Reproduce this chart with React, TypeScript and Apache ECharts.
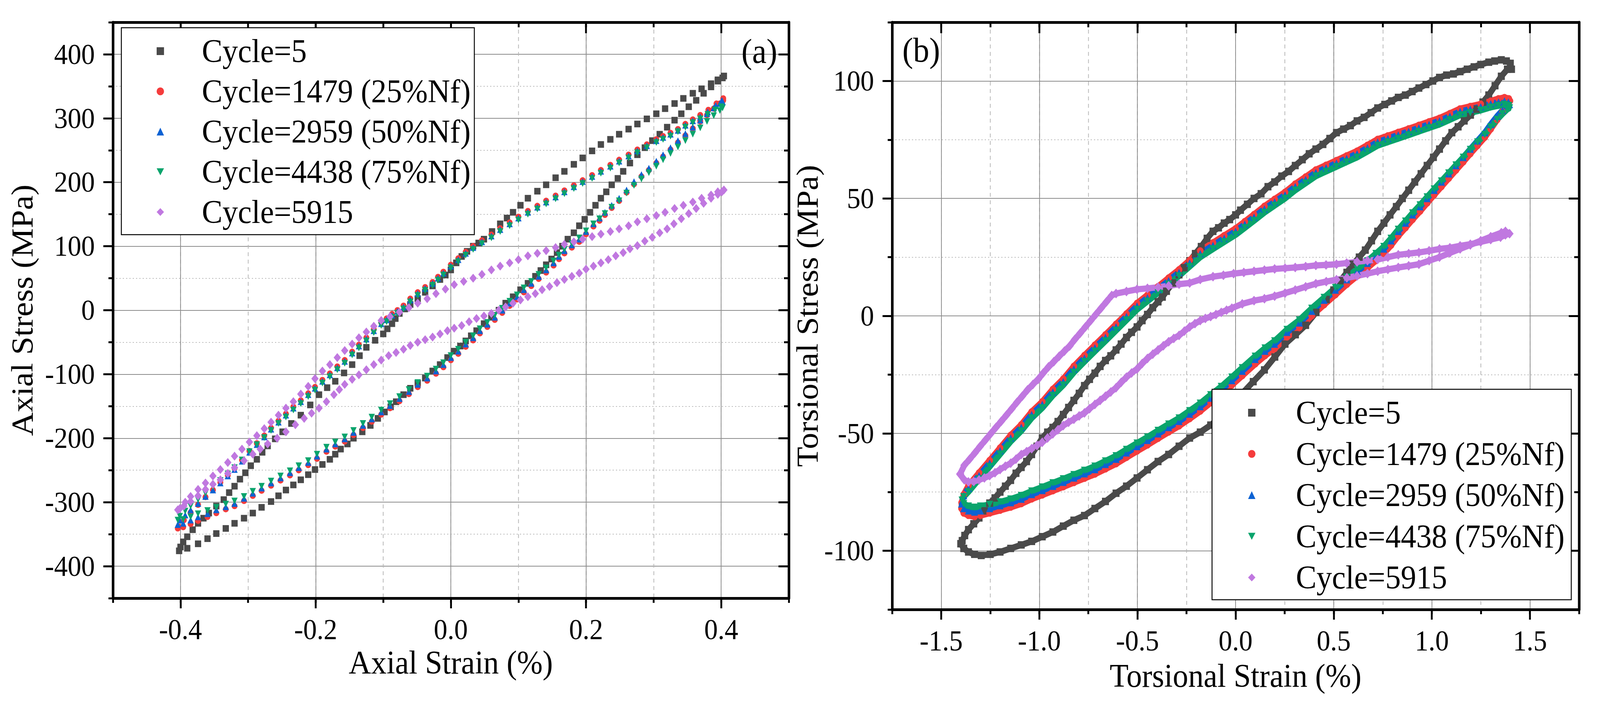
import { useEffect, useRef } from 'react';
import * as echarts from 'echarts';

type Pt = [number, number];

// legend entries, shared by both panels
const SERIES_NAMES = [
  'Cycle=5',
  'Cycle=1479 (25%Nf)',
  'Cycle=2959 (50%Nf)',
  'Cycle=4438 (75%Nf)',
  'Cycle=5915',
];

// tick labels
const AXIAL_STRAIN_TICKS = [-0.4, -0.2, 0, 0.2, 0.4];
const AXIAL_STRESS_TICKS = [-400, -300, -200, -100, 0, 100, 200, 300, 400];
const TORSION_STRAIN_TICKS = [-1.5, -1, -0.5, 0, 0.5, 1, 1.5];
const TORSION_STRESS_TICKS = [-100, -50, 0, 50, 100];

// (a) axial loops: [strain %, stress MPa]
const AXIAL_C5: Pt[] = [
  [-0.402, -376], [-0.39, -372], [-0.374, -365], [-0.36, -357], [-0.347, -349], [-0.333, -341], [-0.32, -333],
  [-0.306, -325], [-0.293, -317], [-0.28, -308], [-0.266, -299], [-0.255, -290], [-0.244, -281], [-0.233, -273],
  [-0.222, -265], [-0.211, -257], [-0.201, -249], [-0.19, -241], [-0.179, -233], [-0.171, -225], [-0.163, -217],
  [-0.153, -209], [-0.144, -200], [-0.131, -190], [-0.119, -180], [-0.108, -169], [-0.098, -159], [-0.089, -151],
  [-0.081, -143], [-0.07, -132], [-0.06, -122], [-0.049, -114], [-0.038, -106], [-0.027, -95], [-0.016, -85],
  [-0.005, -74], [0.005, -64], [0.014, -56], [0.022, -48], [0.03, -40], [0.038, -32], [0.049, -21], [0.06, -11],
  [0.071, 0], [0.081, 11], [0.092, 21], [0.103, 32], [0.114, 42], [0.125, 53], [0.133, 62], [0.141, 71],
  [0.149, 80], [0.157, 90], [0.165, 100], [0.173, 111], [0.182, 121], [0.19, 132], [0.198, 142], [0.206, 153],
  [0.214, 164], [0.222, 175], [0.23, 185], [0.238, 196], [0.247, 206], [0.255, 217], [0.265, 230], [0.276, 243],
  [0.287, 254], [0.298, 265], [0.309, 275], [0.32, 286], [0.331, 297], [0.341, 307], [0.352, 318], [0.363, 328],
  [0.374, 339], [0.385, 349], [0.395, 358], [0.402, 363],
  [0.404, 366], [0.395, 360], [0.385, 354], [0.371, 346], [0.358, 339], [0.344, 331], [0.331, 323], [0.317, 315],
  [0.304, 307], [0.29, 299], [0.276, 291], [0.263, 283], [0.249, 275], [0.236, 267], [0.222, 259], [0.209, 249],
  [0.195, 238], [0.182, 228], [0.168, 217], [0.155, 207], [0.141, 196], [0.128, 186], [0.114, 175], [0.103, 164],
  [0.092, 153], [0.083, 144], [0.073, 135], [0.061, 123], [0.049, 111], [0.041, 105], [0.033, 100], [0.024, 92],
  [0.016, 84], [0.008, 74], [0, 63], [-0.008, 55], [-0.016, 48], [-0.027, 38], [-0.038, 28], [-0.049, 18],
  [-0.06, 9], [-0.068, 2], [-0.076, -5], [-0.082, -13], [-0.087, -21], [-0.094, -29], [-0.1, -37], [-0.112, -47],
  [-0.125, -58], [-0.135, -71], [-0.146, -85], [-0.158, -98], [-0.171, -111], [-0.183, -121], [-0.195, -132],
  [-0.208, -148], [-0.222, -164], [-0.236, -177], [-0.249, -190], [-0.26, -201], [-0.271, -212], [-0.279, -222],
  [-0.287, -233], [-0.296, -243], [-0.304, -254], [-0.312, -264], [-0.32, -275], [-0.328, -285], [-0.336, -296],
  [-0.347, -306], [-0.358, -317], [-0.366, -325], [-0.374, -333], [-0.382, -343], [-0.39, -354], [-0.396, -362],
  [-0.4, -370],
];

const AXIAL_C1479: Pt[] = [
  [-0.404, -341], [-0.396, -339], [-0.385, -334], [-0.374, -329], [-0.36, -323], [-0.347, -317], [-0.333, -311],
  [-0.32, -306], [-0.306, -298], [-0.293, -290], [-0.28, -282], [-0.266, -274], [-0.252, -266], [-0.238, -258],
  [-0.225, -250], [-0.211, -242], [-0.198, -232], [-0.184, -221], [-0.171, -213], [-0.157, -205], [-0.144, -195],
  [-0.13, -184], [-0.117, -174], [-0.103, -163], [-0.09, -153], [-0.076, -142], [-0.062, -131], [-0.049, -120],
  [-0.035, -110], [-0.022, -99], [-0.011, -89], [0, -78], [0.011, -68], [0.022, -57], [0.033, -47], [0.043, -36],
  [0.054, -26], [0.065, -15], [0.076, -4], [0.087, 7], [0.098, 17], [0.108, 28], [0.119, 38], [0.13, 49],
  [0.141, 59], [0.152, 70], [0.16, 80], [0.168, 89], [0.179, 98], [0.19, 107], [0.2, 119], [0.211, 131],
  [0.22, 140], [0.228, 149], [0.238, 160], [0.249, 171], [0.26, 184], [0.271, 197], [0.282, 209], [0.293, 219],
  [0.304, 230], [0.314, 240], [0.325, 251], [0.336, 262], [0.347, 273], [0.358, 284], [0.369, 295], [0.379, 305],
  [0.389, 315], [0.398, 323], [0.403, 328],
  [0.403, 331], [0.393, 323], [0.381, 313], [0.369, 305], [0.358, 298], [0.347, 291], [0.336, 283], [0.325, 277],
  [0.314, 272], [0.304, 267], [0.29, 259], [0.276, 251], [0.263, 243], [0.249, 235], [0.236, 227], [0.222, 219],
  [0.209, 211], [0.195, 203], [0.182, 195], [0.168, 187], [0.155, 179], [0.141, 171], [0.128, 163], [0.114, 155],
  [0.1, 146], [0.087, 137], [0.073, 128], [0.06, 118], [0.046, 109], [0.033, 100], [0.022, 91], [0.011, 81],
  [0, 71], [-0.011, 60], [-0.019, 52], [-0.027, 44], [-0.038, 36], [-0.049, 28], [-0.06, 18], [-0.07, 7],
  [-0.079, 0], [-0.087, -6], [-0.095, -13], [-0.103, -19], [-0.114, -30], [-0.125, -43], [-0.136, -54],
  [-0.146, -65], [-0.157, -78], [-0.168, -88], [-0.179, -99], [-0.19, -109], [-0.201, -120], [-0.211, -130],
  [-0.222, -141], [-0.233, -151], [-0.244, -162], [-0.255, -173], [-0.266, -184], [-0.276, -196], [-0.287, -208],
  [-0.298, -220], [-0.309, -234], [-0.32, -247], [-0.33, -258], [-0.341, -269], [-0.352, -281], [-0.363, -292],
  [-0.374, -304], [-0.385, -316], [-0.395, -328], [-0.403, -338],
];

const AXIAL_C2959: Pt[] = [
  [-0.404, -335], [-0.396, -333], [-0.385, -328], [-0.374, -323], [-0.36, -318], [-0.347, -312], [-0.333, -307],
  [-0.32, -302], [-0.306, -294], [-0.293, -286], [-0.28, -278], [-0.266, -270], [-0.252, -262], [-0.238, -254],
  [-0.225, -246], [-0.211, -238], [-0.198, -228], [-0.184, -217], [-0.171, -209], [-0.157, -201], [-0.144, -191],
  [-0.13, -180], [-0.117, -170], [-0.103, -159], [-0.09, -149], [-0.076, -138], [-0.062, -127], [-0.049, -116],
  [-0.035, -106], [-0.022, -95], [-0.011, -85], [0, -74], [0.011, -64], [0.022, -53], [0.033, -43], [0.043, -32],
  [0.054, -22], [0.065, -11], [0.076, 0], [0.087, 11], [0.098, 21], [0.108, 32], [0.119, 42], [0.13, 53],
  [0.141, 63], [0.152, 74], [0.16, 84], [0.168, 93], [0.179, 102], [0.19, 111], [0.2, 123], [0.211, 135],
  [0.22, 144], [0.228, 153], [0.238, 164], [0.249, 175], [0.26, 188], [0.271, 201], [0.282, 212], [0.293, 222],
  [0.304, 233], [0.314, 243], [0.325, 254], [0.336, 265], [0.347, 276], [0.358, 286], [0.369, 297], [0.379, 307],
  [0.389, 316], [0.398, 323], [0.402, 326],
  [0.401, 328], [0.392, 320], [0.38, 310], [0.369, 302], [0.358, 296], [0.347, 289], [0.336, 281], [0.325, 275],
  [0.314, 270], [0.304, 265], [0.29, 257], [0.276, 249], [0.263, 241], [0.249, 233], [0.236, 225], [0.222, 217],
  [0.209, 209], [0.195, 201], [0.182, 193], [0.168, 185], [0.155, 177], [0.141, 169], [0.128, 161], [0.114, 153],
  [0.1, 144], [0.087, 135], [0.073, 126], [0.06, 116], [0.046, 107], [0.033, 98], [0.022, 89], [0.011, 79],
  [0, 69], [-0.011, 58], [-0.019, 50], [-0.027, 42], [-0.038, 34], [-0.049, 26], [-0.06, 16], [-0.07, 5],
  [-0.079, -2], [-0.087, -8], [-0.095, -15], [-0.103, -21], [-0.114, -32], [-0.125, -45], [-0.136, -56],
  [-0.146, -67], [-0.157, -80], [-0.168, -90], [-0.179, -101], [-0.19, -111], [-0.201, -122], [-0.211, -132],
  [-0.222, -143], [-0.233, -153], [-0.244, -164], [-0.255, -175], [-0.266, -186], [-0.276, -198], [-0.287, -210],
  [-0.298, -222], [-0.309, -236], [-0.32, -249], [-0.33, -259], [-0.341, -270], [-0.352, -281], [-0.363, -291],
  [-0.374, -302], [-0.385, -312], [-0.393, -320], [-0.401, -328],
];

const AXIAL_C4438: Pt[] = [
  [-0.404, -328], [-0.396, -327], [-0.385, -323], [-0.374, -318], [-0.36, -313], [-0.347, -308], [-0.333, -303],
  [-0.32, -298], [-0.306, -291], [-0.293, -283], [-0.28, -275], [-0.266, -267], [-0.252, -259], [-0.238, -251],
  [-0.225, -243], [-0.211, -235], [-0.198, -225], [-0.184, -214], [-0.171, -206], [-0.157, -198], [-0.144, -188],
  [-0.13, -177], [-0.117, -167], [-0.103, -156], [-0.09, -146], [-0.076, -135], [-0.062, -124], [-0.049, -113],
  [-0.035, -103], [-0.022, -92], [-0.011, -82], [0, -71], [0.011, -61], [0.022, -50], [0.033, -40], [0.043, -29],
  [0.054, -19], [0.065, -8], [0.076, 3], [0.087, 14], [0.098, 24], [0.108, 35], [0.119, 45], [0.13, 56],
  [0.141, 66], [0.152, 77], [0.16, 86], [0.168, 95], [0.179, 104], [0.19, 113], [0.2, 124], [0.211, 135],
  [0.22, 143], [0.228, 151], [0.238, 161], [0.249, 171], [0.26, 183], [0.271, 195], [0.282, 205], [0.293, 215],
  [0.304, 225], [0.314, 235], [0.325, 245], [0.336, 255], [0.347, 265], [0.358, 275], [0.369, 285], [0.379, 295],
  [0.389, 304], [0.398, 312], [0.402, 316],
  [0.4, 318], [0.391, 313], [0.38, 306], [0.369, 299], [0.358, 293], [0.347, 286], [0.336, 279], [0.325, 272],
  [0.314, 267], [0.304, 262], [0.29, 254], [0.276, 246], [0.263, 238], [0.249, 230], [0.236, 222], [0.222, 214],
  [0.209, 206], [0.195, 198], [0.182, 190], [0.168, 182], [0.155, 174], [0.141, 166], [0.128, 158], [0.114, 150],
  [0.1, 141], [0.087, 132], [0.073, 123], [0.06, 113], [0.046, 104], [0.033, 95], [0.022, 86], [0.011, 76],
  [0, 66], [-0.011, 55], [-0.019, 47], [-0.027, 39], [-0.038, 31], [-0.049, 23], [-0.06, 13], [-0.07, 2],
  [-0.079, -5], [-0.087, -11], [-0.095, -18], [-0.103, -24], [-0.114, -35], [-0.125, -48], [-0.136, -59],
  [-0.146, -70], [-0.157, -83], [-0.168, -93], [-0.179, -104], [-0.19, -114], [-0.201, -125], [-0.211, -135],
  [-0.222, -146], [-0.233, -156], [-0.244, -167], [-0.255, -177], [-0.266, -188], [-0.276, -199], [-0.287, -210],
  [-0.298, -221], [-0.309, -234], [-0.32, -246], [-0.33, -256], [-0.341, -266], [-0.352, -276], [-0.363, -286],
  [-0.374, -296], [-0.385, -306], [-0.393, -314], [-0.401, -322],
];

const AXIAL_C5915: Pt[] = [
  [-0.404, -312], [-0.395, -306], [-0.385, -299], [-0.374, -290], [-0.363, -280], [-0.352, -272], [-0.341, -265],
  [-0.33, -255], [-0.32, -246], [-0.306, -235], [-0.293, -225], [-0.282, -217], [-0.271, -209], [-0.257, -200],
  [-0.244, -190], [-0.23, -179], [-0.217, -169], [-0.206, -161], [-0.195, -153], [-0.184, -143], [-0.173, -132],
  [-0.165, -124], [-0.157, -116], [-0.146, -108], [-0.136, -101], [-0.125, -93], [-0.114, -85], [-0.103, -78],
  [-0.092, -71], [-0.081, -66], [-0.07, -61], [-0.06, -55], [-0.049, -50], [-0.038, -46], [-0.027, -42],
  [-0.016, -37], [-0.005, -32], [0.005, -28], [0.016, -24], [0.027, -18], [0.038, -13], [0.049, -9], [0.06, -5],
  [0.071, 0], [0.081, 5], [0.092, 11], [0.103, 16], [0.114, 21], [0.125, 26], [0.135, 32], [0.146, 37],
  [0.157, 43], [0.168, 48], [0.179, 53], [0.19, 58], [0.2, 64], [0.211, 69], [0.222, 74], [0.233, 79],
  [0.244, 85], [0.255, 90], [0.265, 96], [0.276, 101], [0.287, 108], [0.298, 114], [0.309, 121], [0.32, 127],
  [0.33, 135], [0.341, 143], [0.352, 151], [0.363, 159], [0.374, 167], [0.385, 175], [0.395, 181], [0.401, 185],
  [0.404, 188], [0.395, 185], [0.385, 180], [0.371, 175], [0.358, 169], [0.344, 164], [0.331, 159], [0.317, 153],
  [0.304, 148], [0.29, 143], [0.276, 138], [0.263, 132], [0.249, 127], [0.236, 123], [0.222, 119], [0.209, 115],
  [0.195, 111], [0.182, 107], [0.168, 103], [0.155, 98], [0.141, 93], [0.128, 89], [0.114, 85], [0.1, 79],
  [0.087, 74], [0.073, 69], [0.06, 63], [0.046, 56], [0.033, 50], [0.019, 45], [0.005, 40], [-0.008, 33],
  [-0.022, 26], [-0.035, 18], [-0.049, 11], [-0.062, 4], [-0.076, -3], [-0.09, -10], [-0.103, -16], [-0.114, -25],
  [-0.125, -34], [-0.136, -43], [-0.146, -53], [-0.157, -63], [-0.168, -74], [-0.179, -85], [-0.19, -95],
  [-0.201, -107], [-0.211, -119], [-0.222, -131], [-0.233, -143], [-0.244, -153], [-0.255, -164], [-0.266, -175],
  [-0.276, -185], [-0.287, -196], [-0.298, -206], [-0.309, -217], [-0.32, -228], [-0.33, -238], [-0.341, -249],
  [-0.352, -259], [-0.363, -270], [-0.374, -280], [-0.385, -291], [-0.393, -300], [-0.401, -310],
];

// (b) torsional loops: [strain %, stress MPa], traced round each loop
const TORSION_C5: Pt[] = [
  [-1.4, -97], [-1.385, -99], [-1.361, -100.5], [-1.33, -101.5], [-1.296, -102], [-1.25, -101.5], [-1.2, -100.5],
  [-1.146, -99], [-1.092, -97.5], [-1.039, -96], [-0.985, -94], [-0.931, -92], [-0.878, -89.5], [-0.824, -87],
  [-0.77, -85], [-0.717, -82], [-0.663, -79], [-0.609, -75.5], [-0.556, -72.5], [-0.502, -69], [-0.449, -65.5],
  [-0.395, -62], [-0.341, -59], [-0.288, -55.5], [-0.234, -52], [-0.18, -49.5], [-0.127, -46.5], [-0.073, -43],
  [-0.019, -39.5], [0.034, -33], [0.09, -28], [0.147, -23], [0.2, -17.5], [0.252, -12], [0.305, -8], [0.357, -4],
  [0.41, 1.5], [0.462, 7], [0.5, 11], [0.535, 15], [0.567, 18.5], [0.598, 22], [0.63, 25], [0.661, 28],
  [0.693, 32], [0.724, 36], [0.756, 39.5], [0.787, 43], [0.819, 46.5], [0.85, 50], [0.882, 53.5], [0.913, 57],
  [0.945, 60.5], [0.976, 64], [1.008, 67.5], [1.039, 71], [1.07, 74.5], [1.102, 78], [1.134, 80.5], [1.165, 83],
  [1.197, 85.5], [1.228, 88], [1.26, 91], [1.29, 94], [1.322, 98], [1.354, 102], [1.385, 105], [1.406, 105],
  [1.4, 107.5], [1.38, 108.5], [1.354, 109], [1.32, 108.5], [1.29, 108], [1.249, 107], [1.215, 106], [1.18, 105],
  [1.144, 104], [1.11, 103], [1.075, 102.5], [1.039, 101.5], [1.005, 100], [0.97, 98.5], [0.934, 97], [0.9, 95.5],
  [0.865, 94], [0.829, 93], [0.795, 91.5], [0.76, 90], [0.724, 88.5], [0.69, 86.5], [0.655, 84.5], [0.619, 83],
  [0.585, 81], [0.55, 79.5], [0.514, 78], [0.48, 75.5], [0.445, 73], [0.409, 71], [0.375, 69], [0.34, 66.5],
  [0.304, 64], [0.27, 61.5], [0.235, 59.5], [0.199, 57], [0.165, 55], [0.13, 52], [0.094, 50], [0.06, 47.5],
  [0.025, 45], [0, 43], [-0.03, 41], [-0.058, 39.5], [-0.087, 37.5], [-0.115, 36], [-0.145, 33], [-0.175, 29.5],
  [-0.205, 26.5], [-0.234, 23.5], [-0.262, 20.5], [-0.288, 17.5], [-0.32, 14], [-0.352, 10.5], [-0.373, 8],
  [-0.395, 6], [-0.422, 3.5], [-0.449, 0.6], [-0.476, -2], [-0.502, -4.7], [-0.53, -7], [-0.556, -9.2],
  [-0.583, -12], [-0.609, -14.5], [-0.636, -17], [-0.663, -19], [-0.69, -21.5], [-0.717, -24.4], [-0.744, -27],
  [-0.77, -29.7], [-0.797, -33], [-0.824, -36], [-0.851, -39], [-0.878, -42], [-0.905, -45], [-0.931, -47.5],
  [-0.958, -49.5], [-0.985, -52], [-1.012, -55.5], [-1.039, -59], [-1.065, -62], [-1.092, -64.5], [-1.119, -67],
  [-1.146, -70], [-1.173, -72.5], [-1.2, -75], [-1.226, -77.5], [-1.253, -79.7], [-1.28, -83], [-1.307, -86],
  [-1.334, -88.5], [-1.361, -91], [-1.38, -93.5], [-1.393, -95.7], [-1.4, -97],
];

const TORSION_C1479: Pt[] = [
  [-1.396, -82], [-1.385, -84], [-1.361, -85], [-1.33, -85.5], [-1.3, -85], [-1.253, -84], [-1.2, -82.8],
  [-1.146, -81.5], [-1.092, -80], [-1.039, -78], [-0.985, -76.3], [-0.931, -74.5], [-0.878, -72.8], [-0.824, -71],
  [-0.77, -69.2], [-0.717, -67.4], [-0.663, -65.2], [-0.609, -63], [-0.556, -60.3], [-0.502, -57.6], [-0.449, -55],
  [-0.395, -52.2], [-0.341, -49.5], [-0.288, -46.9], [-0.234, -43.8], [-0.18, -40.6], [-0.127, -37], [-0.073, -33.5],
  [-0.019, -29.5], [0.034, -25.5], [0.1, -20.5], [0.15, -17], [0.199, -14], [0.262, -9], [0.325, -5], [0.388, 0],
  [0.451, 4.7], [0.509, 9], [0.567, 13.4], [0.62, 17], [0.672, 20.4], [0.715, 23.5], [0.755, 26.5], [0.792, 30],
  [0.829, 34], [0.866, 37.5], [0.902, 41], [0.94, 44.5], [0.976, 48], [1.012, 51.5], [1.049, 55], [1.086, 58.5],
  [1.123, 62], [1.16, 65.5], [1.196, 69], [1.233, 72.5], [1.27, 76], [1.3, 79.5], [1.333, 83.5], [1.36, 87],
  [1.385, 90], [1.398, 91.5],
  [1.392, 92.5], [1.37, 93], [1.34, 92.5], [1.3, 91.5], [1.249, 90.2], [1.196, 89.2], [1.144, 88.2], [1.092, 86.2],
  [1.039, 84.2], [0.986, 82.7], [0.934, 81.2], [0.882, 79.7], [0.829, 78.2], [0.776, 76.7], [0.724, 75.2],
  [0.672, 72.7], [0.619, 70.2], [0.566, 68.2], [0.514, 66.2], [0.461, 64.2], [0.409, 62.2], [0.357, 59.2],
  [0.304, 56.2], [0.252, 52.7], [0.199, 49.7], [0.147, 46.7], [0.094, 43.2], [0.047, 40.2], [0, 37.2],
  [-0.058, 34.2], [-0.115, 31.2], [-0.18, 27.7], [-0.234, 23.7], [-0.288, 19.7], [-0.341, 16.2], [-0.395, 12.5],
  [-0.449, 8.9], [-0.502, 5.4], [-0.556, 0.9], [-0.609, -3.5], [-0.663, -8], [-0.717, -12.4], [-0.77, -16.8],
  [-0.824, -21.4], [-0.878, -26.8], [-0.931, -31.2], [-0.985, -36.5], [-1.039, -40.8], [-1.092, -46.3],
  [-1.146, -50.8], [-1.2, -56.2], [-1.253, -61.5], [-1.307, -66.8], [-1.361, -72.2], [-1.385, -76], [-1.396, -79.5],
  [-1.396, -82],
];

const TORSION_C2959: Pt[] = [
  [-1.396, -80], [-1.385, -82], [-1.361, -83], [-1.33, -83.5], [-1.3, -83], [-1.253, -82], [-1.2, -80.8],
  [-1.146, -79.5], [-1.092, -78], [-1.039, -76], [-0.985, -74.3], [-0.931, -72.5], [-0.878, -70.8], [-0.824, -69],
  [-0.77, -67.2], [-0.717, -65.4], [-0.663, -63.2], [-0.609, -61], [-0.556, -58.3], [-0.502, -55.6], [-0.449, -53],
  [-0.395, -50.2], [-0.341, -47.5], [-0.288, -44.9], [-0.234, -41.8], [-0.18, -38.6], [-0.127, -35], [-0.073, -31.5],
  [-0.019, -27.5], [0.034, -23.5], [0.1, -18.5], [0.15, -15], [0.199, -12], [0.262, -7], [0.325, -3], [0.388, 2],
  [0.451, 6.7], [0.509, 11], [0.567, 15.4], [0.62, 19], [0.672, 22.4], [0.715, 25.5], [0.755, 28.5], [0.792, 32],
  [0.829, 36], [0.866, 39.5], [0.902, 43], [0.94, 46.5], [0.976, 50], [1.012, 53.5], [1.049, 57], [1.086, 60.5],
  [1.123, 64], [1.16, 67.5], [1.196, 71], [1.233, 74.5], [1.27, 78], [1.3, 81.5], [1.333, 85], [1.36, 87.5],
  [1.385, 89.5], [1.396, 90],
  [1.39, 91], [1.37, 91.5], [1.34, 91], [1.3, 90.3], [1.249, 89], [1.196, 88], [1.144, 87], [1.092, 85],
  [1.039, 83], [0.986, 81.5], [0.934, 80], [0.882, 78.5], [0.829, 77], [0.776, 75.5], [0.724, 74], [0.672, 71.5],
  [0.619, 69], [0.566, 67], [0.514, 65], [0.461, 63], [0.409, 61], [0.357, 58], [0.304, 55], [0.252, 51.5],
  [0.199, 48.5], [0.147, 45.5], [0.094, 42], [0.047, 39], [0, 36], [-0.058, 33], [-0.115, 30], [-0.18, 26.5],
  [-0.234, 22.5], [-0.288, 18.5], [-0.341, 15], [-0.395, 11.3], [-0.449, 7.7], [-0.502, 4.2], [-0.556, -0.3],
  [-0.609, -4.7], [-0.663, -9.2], [-0.717, -13.6], [-0.77, -18], [-0.824, -22.6], [-0.878, -28], [-0.931, -32.4],
  [-0.985, -37.7], [-1.039, -42], [-1.092, -47.5], [-1.146, -52], [-1.2, -57.4], [-1.253, -62.7], [-1.307, -68],
  [-1.361, -73.4], [-1.385, -76.5], [-1.393, -78.8], [-1.396, -80],
];

const TORSION_C4438: Pt[] = [
  [-1.393, -78.5], [-1.385, -80], [-1.361, -81], [-1.33, -81.5], [-1.3, -81], [-1.253, -80.3], [-1.2, -79.2],
  [-1.146, -78], [-1.092, -76.5], [-1.039, -74.6], [-0.985, -72.9], [-0.931, -71.1], [-0.878, -69.4], [-0.824, -67.6],
  [-0.77, -65.8], [-0.717, -64], [-0.663, -61.8], [-0.609, -59.6], [-0.556, -56.9], [-0.502, -54.2], [-0.449, -51.6],
  [-0.395, -48.8], [-0.341, -46.1], [-0.288, -43.5], [-0.234, -40.4], [-0.18, -37.2], [-0.127, -33.6], [-0.073, -30.1],
  [-0.019, -26.1], [0.034, -22.1], [0.1, -17.2], [0.15, -13.7], [0.199, -10.7], [0.262, -5.8], [0.325, -1.8],
  [0.388, 3.2], [0.451, 7.8], [0.509, 12], [0.567, 16.4], [0.62, 20], [0.672, 23.4], [0.715, 26.5], [0.755, 29.5],
  [0.792, 33], [0.829, 36.8], [0.866, 40.3], [0.902, 43.8], [0.94, 47.2], [0.976, 50.6], [1.012, 54], [1.049, 57.4],
  [1.086, 60.8], [1.123, 64.2], [1.16, 67.5], [1.196, 70.8], [1.233, 74], [1.27, 77.2], [1.3, 80.4], [1.333, 83.6],
  [1.36, 86], [1.385, 88], [1.396, 88.5],
  [1.392, 89.5], [1.37, 90], [1.34, 89.5], [1.3, 88.8], [1.249, 87.5], [1.196, 86.5], [1.144, 85.5], [1.092, 83.5],
  [1.039, 81.5], [0.986, 80], [0.934, 78.5], [0.882, 77], [0.829, 75.5], [0.776, 74], [0.724, 72.5], [0.672, 70],
  [0.619, 67.5], [0.566, 65.5], [0.514, 63.5], [0.461, 61.5], [0.409, 59.5], [0.357, 56.5], [0.304, 53.5],
  [0.252, 50], [0.199, 47], [0.147, 44], [0.094, 40.5], [0.047, 37.5], [0, 34.5], [-0.058, 31.5], [-0.115, 28.5],
  [-0.18, 25], [-0.234, 21], [-0.288, 17], [-0.341, 13.5], [-0.395, 9.8], [-0.449, 6.2], [-0.502, 2.7],
  [-0.556, -1.8], [-0.609, -6.2], [-0.663, -10.7], [-0.717, -15.1], [-0.77, -19.5], [-0.824, -24.1], [-0.878, -29.5],
  [-0.931, -33.9], [-0.985, -39.2], [-1.039, -43.5], [-1.092, -49], [-1.146, -53.5], [-1.2, -58.9], [-1.253, -64.2],
  [-1.307, -69.5], [-1.361, -74.9], [-1.385, -77], [-1.393, -78.5],
];

const TORSION_C5915: Pt[] = [
  [-1.403, -67.5], [-1.382, -69.8], [-1.361, -70.7], [-1.334, -70.5], [-1.307, -69.8], [-1.28, -69], [-1.253, -68],
  [-1.226, -66.8], [-1.2, -65.4], [-1.173, -64], [-1.146, -62.7], [-1.119, -61], [-1.092, -59], [-1.065, -57.8],
  [-1.039, -56.5], [-1.012, -55.2], [-0.985, -53.8], [-0.958, -52], [-0.931, -50.2], [-0.905, -48.5], [-0.878, -46.7],
  [-0.851, -45.3], [-0.824, -44], [-0.797, -42.6], [-0.77, -41.3], [-0.744, -39.5], [-0.717, -37.7], [-0.69, -36],
  [-0.663, -34.2], [-0.636, -32.4], [-0.609, -30.6], [-0.583, -28.3], [-0.556, -26.1], [-0.53, -24.3], [-0.502, -22.6],
  [-0.476, -20.3], [-0.449, -18.1], [-0.422, -16.3], [-0.395, -14.5], [-0.368, -12.7], [-0.341, -11], [-0.315, -9.6],
  [-0.288, -8.3], [-0.261, -6.5], [-0.234, -4.7], [-0.207, -3.3], [-0.18, -2], [-0.154, -1.1], [-0.127, -0.3],
  [-0.1, 0.6], [-0.073, 1.5], [-0.046, 2.4], [-0.019, 3.3], [0.034, 5.1], [0.094, 6.5], [0.147, 7.3], [0.199, 8.4],
  [0.252, 9.7], [0.304, 11], [0.357, 12.4], [0.409, 13.7], [0.462, 14.6], [0.514, 15.4], [0.567, 16.2], [0.619, 17],
  [0.672, 18], [0.724, 19], [0.776, 19.8], [0.829, 20.6], [0.882, 21.3], [0.934, 22], [0.986, 23.5], [1.039, 25],
  [1.092, 26.8], [1.144, 28.5], [1.196, 30.2], [1.249, 32], [1.3, 33.7], [1.354, 35.4], [1.375, 36],
  [1.396, 35], [1.375, 34.5], [1.35, 33.5], [1.3, 32.5], [1.249, 31.5], [1.196, 30.5], [1.144, 29.8], [1.092, 29],
  [1.039, 28.5], [0.986, 27.7], [0.934, 27], [0.882, 26.5], [0.829, 26], [0.776, 25], [0.724, 24], [0.672, 23.5],
  [0.619, 23], [0.566, 22.5], [0.514, 22], [0.461, 21.7], [0.409, 21.5], [0.357, 21], [0.304, 20.6], [0.252, 20.3],
  [0.199, 20], [0.147, 19.5], [0.094, 19], [0.042, 18.5], [-0.01, 18], [-0.062, 17.3], [-0.115, 16.7], [-0.18, 15.5],
  [-0.234, 14], [-0.288, 13.5], [-0.341, 12.8], [-0.395, 12.2], [-0.449, 11.7], [-0.502, 11.3], [-0.556, 10.4],
  [-0.609, 9.5], [-0.631, 8.7], [-0.658, 6], [-0.685, 3.3], [-0.712, 0.6], [-0.738, -2], [-0.765, -4.7],
  [-0.792, -7.4], [-0.819, -10], [-0.845, -12.8], [-0.872, -15], [-0.899, -17.2], [-0.926, -19.5], [-0.953, -21.7],
  [-0.98, -24.3], [-1.006, -27], [-1.033, -29.2], [-1.06, -31.5], [-1.087, -34.2], [-1.114, -36.8], [-1.14, -39.5],
  [-1.167, -42.2], [-1.194, -44.9], [-1.221, -47.5], [-1.248, -50.2], [-1.275, -52.9], [-1.302, -55.6],
  [-1.328, -58.3], [-1.355, -61], [-1.382, -63.6], [-1.403, -67.2],
];

const AXIAL_LOOPS = [AXIAL_C5, AXIAL_C1479, AXIAL_C2959, AXIAL_C4438, AXIAL_C5915];
const TORSION_LOOPS = [TORSION_C5, TORSION_C1479, TORSION_C2959, TORSION_C4438, TORSION_C5915];

const COLORS = ['#4a4a4a', '#f53c3c', '#0c62d3', '#09a46c', '#c078e0'];
const SYMBOLS = ['rect', 'circle', 'triangle', 'path://M0,0L20,0L10,18Z', 'diamond'];
const AXIAL_SYMBOL_SIZES: any[] = [17, 16, 17, 17, [20, 23]];
const TORSION_SYMBOL_SIZES: any[] = [19, 18, 19, 19, [22, 25]];

// the figure is laid out on a 4351 x 1803 sheet
const SHEET_W = 4351;
const SHEET_H = 1803;

const FONT = 'Liberation Serif';
const MAJOR_GRID = '#8c8c8c';
const MINOR_GRID = '#b5b5b5';
const AXIS_LINE = { color: '#000', width: 7 };
const TICK_LINE = { color: '#000', width: 5 };
const TITLE_STYLE = { fontSize: 84, fontFamily: FONT, color: '#000' };

const isMajor = (v: number, ticks: number[]) => ticks.some((t) => Math.abs(t - v) < 1e-6);

function strainAxes(grid: number, min: number, max: number, minorStep: number, ticks: number[], splitNumber: number, name: string, nameGap: number) {
  const base = { gridIndex: grid, type: 'value', min, max, silent: true };
  return [
    // minor ticks and dashed grid lines
    {
      ...base, position: 'bottom', interval: minorStep,
      axisLine: { show: false, onZero: false },
      axisTick: { show: true, inside: false, length: 12, lineStyle: TICK_LINE },
      axisLabel: { show: false },
      splitLine: { show: true, lineStyle: { color: MINOR_GRID, width: 2, type: [10, 9] } },
    },
    // major ticks, labels and solid grid lines
    {
      ...base, position: 'bottom', splitNumber,
      axisLine: { show: true, onZero: false, lineStyle: AXIS_LINE },
      axisTick: { show: true, inside: false, length: 26, customValues: ticks, lineStyle: TICK_LINE },
      axisLabel: {
        show: true, customValues: ticks, margin: 43, fontSize: 74, fontFamily: FONT, color: '#000',
        formatter: (v: number) => (isMajor(v, ticks) ? v.toFixed(1) : ''),
      },
      splitLine: { show: true, lineStyle: { color: MAJOR_GRID, width: 2 } },
      name, nameLocation: 'middle', nameGap, nameTextStyle: TITLE_STYLE,
    },
    {
      ...base, position: 'top', interval: minorStep,
      axisLine: { show: true, onZero: false, lineStyle: AXIS_LINE },
      axisTick: { show: true, inside: true, length: 13, lineStyle: TICK_LINE },
      axisLabel: { show: false }, splitLine: { show: false },
    },
    {
      ...base, position: 'top', splitNumber,
      axisLine: { show: false, onZero: false },
      axisTick: { show: true, inside: true, length: 28, customValues: ticks, lineStyle: TICK_LINE },
      axisLabel: { show: false }, splitLine: { show: false },
    },
  ];
}

function stressAxes(grid: number, min: number, max: number, minorStep: number, ticks: number[], splitNumber: number, name: string, nameGap: number) {
  const base = { gridIndex: grid, type: 'value', min, max, silent: true };
  return [
    {
      ...base, position: 'left', interval: minorStep,
      axisLine: { show: false, onZero: false },
      axisTick: { show: true, inside: false, length: 12, lineStyle: TICK_LINE },
      axisLabel: { show: false },
      splitLine: { show: true, lineStyle: { color: MINOR_GRID, width: 2, type: [3, 6] } },
    },
    {
      ...base, position: 'left', splitNumber,
      axisLine: { show: true, onZero: false, lineStyle: AXIS_LINE },
      axisTick: { show: true, inside: false, length: 26, customValues: ticks, lineStyle: TICK_LINE },
      axisLabel: {
        show: true, customValues: ticks, margin: 49, fontSize: 74, fontFamily: FONT, color: '#000',
        formatter: (v: number) => (isMajor(v, ticks) ? String(Math.round(v)) : ''),
      },
      splitLine: { show: true, lineStyle: { color: MAJOR_GRID, width: 2 } },
      name, nameLocation: 'middle', nameGap, nameTextStyle: TITLE_STYLE,
    },
    {
      ...base, position: 'right', interval: minorStep,
      axisLine: { show: true, onZero: false, lineStyle: AXIS_LINE },
      axisTick: { show: true, inside: true, length: 13, lineStyle: TICK_LINE },
      axisLabel: { show: false }, splitLine: { show: false },
    },
    {
      ...base, position: 'right', splitNumber,
      axisLine: { show: false, onZero: false },
      axisTick: { show: true, inside: true, length: 28, customValues: ticks, lineStyle: TICK_LINE },
      axisLabel: { show: false }, splitLine: { show: false },
    },
  ];
}

function legendFor(left: number, top: number, itemGap: number, padding: number[], textShift: number) {
  return {
    left, top, orient: 'vertical', itemWidth: 20, itemHeight: 20, itemGap, padding,
    backgroundColor: '#fff', borderColor: '#000', borderWidth: 2.5, borderRadius: 0,
    selectedMode: false,
    textStyle: { fontSize: 84, fontFamily: FONT, color: '#000', lineHeight: 84, padding: [0, 0, 0, textShift] },
    data: SERIES_NAMES.map((name, i) => ({ name, icon: SYMBOLS[i] })),
  };
}

export default function App() {
  const chartRef = useRef<HTMLDivElement>(null);

  // the browser window may be narrower than the sheet: squeeze the sheet to fit it
  const scaleX = typeof window !== 'undefined' ? Math.min(1, window.innerWidth / SHEET_W) : 1;
  const scaleY = typeof window !== 'undefined' ? Math.min(1, window.innerHeight / SHEET_H) : 1;

  useEffect(() => {
    if (!chartRef.current) return;
    document.body.style.margin = '0';
    document.body.style.overflow = 'hidden';
    const chart = echarts.init(chartRef.current, undefined, { renderer: 'svg' });

    const option: any = {
      animation: false,
      backgroundColor: '#fff',
      grid: [
        { left: 307, top: 57, width: 1838, height: 1475 },
        { left: 2426, top: 57, width: 1868, height: 1504 },
      ],
      xAxis: [
        ...strainAxes(0, -0.5, 0.5, 0.1, AXIAL_STRAIN_TICKS, 5, 'Axial Strain (%)', 123),
        ...strainAxes(1, -1.75, 1.75, 0.25, TORSION_STRAIN_TICKS, 7, 'Torsional Strain (%)', 128),
      ],
      yAxis: [
        ...stressAxes(0, -450, 450, 50, AXIAL_STRESS_TICKS, 9, 'Axial Stress (MPa)', 205),
        ...stressAxes(1, -125, 125, 25, TORSION_STRESS_TICKS, 5, 'Torsional Stress (MPa)', 170),
      ],
      legend: [
        legendFor(330, 71, 19, [18, 10, 16, 96], 98),
        legendFor(3296, 997, 21.5, [18, 18, 15, 98], 105),
      ],
      graphic: [
        { type: 'text', x: 2065, y: 131, z: 100, style: { text: '(a)', fontSize: 88, fontFamily: FONT, fill: '#000', align: 'center', verticalAlign: 'middle' } },
        { type: 'text', x: 2505, y: 128, z: 100, style: { text: '(b)', fontSize: 88, fontFamily: FONT, fill: '#000', align: 'center', verticalAlign: 'middle' } },
      ],
      series: [
        ...AXIAL_LOOPS.map((data, i) => ({
          type: 'scatter',
          name: SERIES_NAMES[i],
          xAxisIndex: 1,
          yAxisIndex: 1,
          data,
          symbol: SYMBOLS[i],
          symbolSize: AXIAL_SYMBOL_SIZES[i],
          itemStyle: { color: COLORS[i], opacity: 1 },
          silent: true,
        })),
        ...TORSION_LOOPS.map((data, i) => ({
          type: 'line',
          name: SERIES_NAMES[i],
          xAxisIndex: 5,
          yAxisIndex: 5,
          data,
          showSymbol: true,
          symbol: SYMBOLS[i],
          symbolSize: TORSION_SYMBOL_SIZES[i],
          itemStyle: { color: COLORS[i], opacity: 1 },
          lineStyle: { color: COLORS[i], width: 16 },
          smooth: false,
          silent: true,
        })),
      ],
    };

    chart.setOption(option);

    return () => {
      chart.dispose();
    };
  }, []);

  return (
    <div style={{ width: '100vw', height: '100vh', overflow: 'hidden', background: '#fff' }}>
      <div
        ref={chartRef}
        style={{
          width: `${SHEET_W}px`,
          height: `${SHEET_H}px`,
          transform: `scale(${scaleX}, ${scaleY})`,
          transformOrigin: '0 0',
        }}
      />
    </div>
  );
}
